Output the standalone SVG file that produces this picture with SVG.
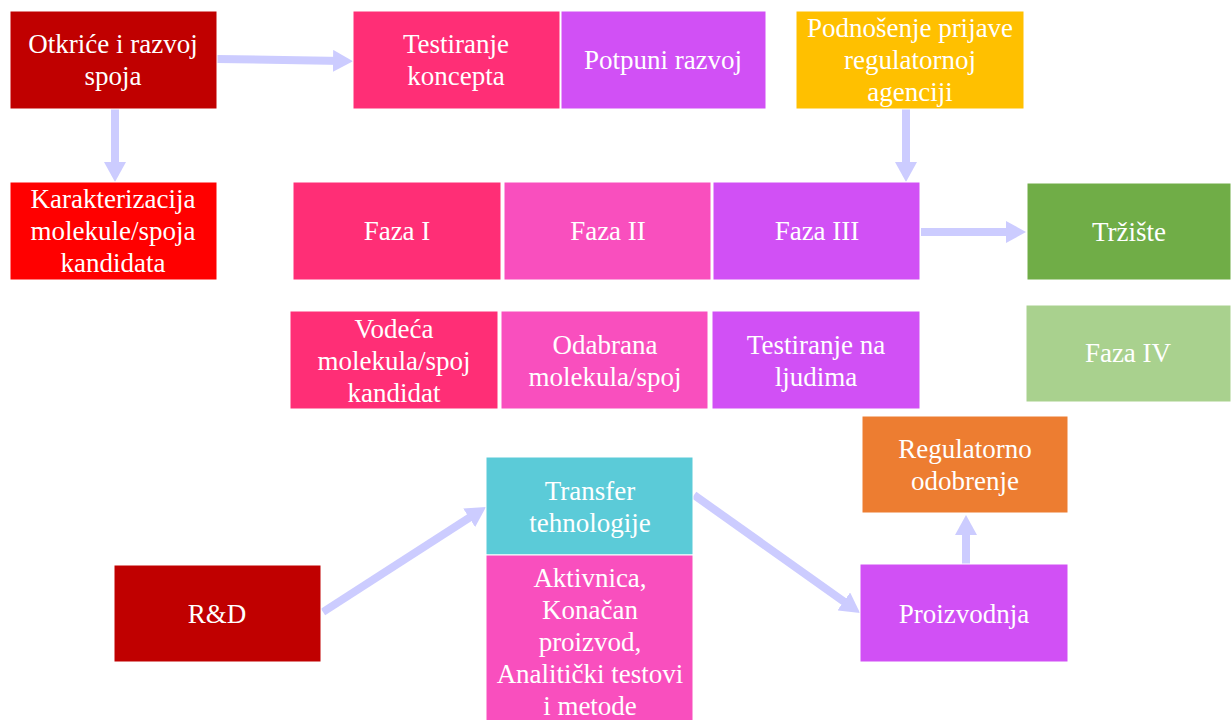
<svg xmlns="http://www.w3.org/2000/svg" width="1231" height="720" viewBox="0 0 1231 720">
<style>
rect{stroke:#ffffff;stroke-width:1}
text{font-family:"Liberation Serif","Times New Roman",serif;font-size:27px;fill:#ffffff;text-anchor:middle}
.c{stroke:#CCCCFF;stroke-width:8;fill:none;marker-end:url(#ah)}
</style>
<defs>
<marker id="ah" markerUnits="userSpaceOnUse" markerWidth="22" markerHeight="22" refX="10" refY="11" orient="auto">
<path d="M0,0 L20,11 L0,22 Z" fill="#CCCCFF"/>
</marker>
</defs>
<rect width="1231" height="720" fill="#ffffff" stroke="none"/>
<g id="connectors">
<line class="c" x1="217" y1="59" x2="343" y2="61"/>
<line class="c" x1="115" y1="109" x2="115" y2="172"/>
<line class="c" x1="906" y1="109" x2="906" y2="172"/>
<line class="c" x1="921" y1="232" x2="1016" y2="232"/>
<line class="c" x1="323" y1="612" x2="477.6" y2="512.4"/>
<line class="c" x1="694" y1="495" x2="851.9" y2="607.2"/>
<line class="c" x1="966" y1="564" x2="966" y2="525"/>
</g>
<g id="otkrice"><rect x="10" y="11" width="207" height="98" fill="#C00000"/><text x="113" y="53">Otkriće i razvoj</text><text x="113" y="85">spoja</text></g>
<g id="testiranje-koncepta"><rect x="353" y="11" width="207" height="98" fill="#FF2E76"/><text x="456" y="53">Testiranje</text><text x="456" y="85">koncepta</text></g>
<g id="potpuni-razvoj"><rect x="561" y="11" width="205" height="98" fill="#D150F5"/><text x="663" y="69">Potpuni razvoj</text></g>
<g id="podnosenje"><rect x="796" y="11" width="228" height="98" fill="#FFC000"/><text x="910" y="37">Podnošenje prijave</text><text x="910" y="69">regulatornoj</text><text x="910" y="101">agenciji</text></g>
<g id="karakterizacija"><rect x="10" y="182" width="207" height="98" fill="#FF0000"/><text x="113" y="208">Karakterizacija</text><text x="113" y="240">molekule/spoja</text><text x="113" y="272">kandidata</text></g>
<g id="faza1"><rect x="293" y="182" width="208" height="98" fill="#FF2E76"/><text x="397" y="240">Faza I</text></g>
<g id="faza2"><rect x="504" y="182" width="207" height="98" fill="#F94FBE"/><text x="608" y="240">Faza II</text></g>
<g id="faza3"><rect x="713" y="182" width="207" height="98" fill="#D150F5"/><text x="817" y="240">Faza III</text></g>
<g id="trziste"><rect x="1027" y="183" width="204" height="97" fill="#70AD47"/><text x="1129" y="241">Tržište</text></g>
<g id="vodeca"><rect x="290" y="311" width="208" height="98" fill="#FF2E76"/><text x="394" y="338">Vodeća</text><text x="394" y="370">molekula/spoj</text><text x="394" y="402">kandidat</text></g>
<g id="odabrana"><rect x="501" y="311" width="207" height="98" fill="#F94FBE"/><text x="605" y="354">Odabrana</text><text x="605" y="386">molekula/spoj</text></g>
<g id="testiranje-ljudi"><rect x="712" y="311" width="208" height="98" fill="#D150F5"/><text x="816" y="354">Testiranje na</text><text x="816" y="386">ljudima</text></g>
<g id="faza4"><rect x="1026" y="305" width="205" height="97" fill="#A9D18E"/><text x="1128" y="362">Faza IV</text></g>
<g id="regulatorno"><rect x="862" y="416" width="206" height="97" fill="#ED7D31"/><text x="965" y="458">Regulatorno</text><text x="965" y="490">odobrenje</text></g>
<g id="transfer"><rect x="486" y="457" width="207" height="98" fill="#5BCBD8"/><text x="590" y="500">Transfer</text><text x="590" y="532">tehnologije</text></g>
<g id="aktivnica"><rect x="486" y="555" width="207" height="170" fill="#F94FBE"/><text x="590" y="587">Aktivnica,</text><text x="590" y="619">Konačan</text><text x="590" y="651">proizvod,</text><text x="590" y="683">Analitički testovi</text><text x="590" y="715">i metode</text></g>
<g id="rd"><rect x="114" y="565" width="207" height="97" fill="#C00000"/><text x="217" y="623">R&amp;D</text></g>
<g id="proizvodnja"><rect x="860" y="564" width="208" height="98" fill="#D150F5"/><text x="964" y="623">Proizvodnja</text></g>
</svg>
